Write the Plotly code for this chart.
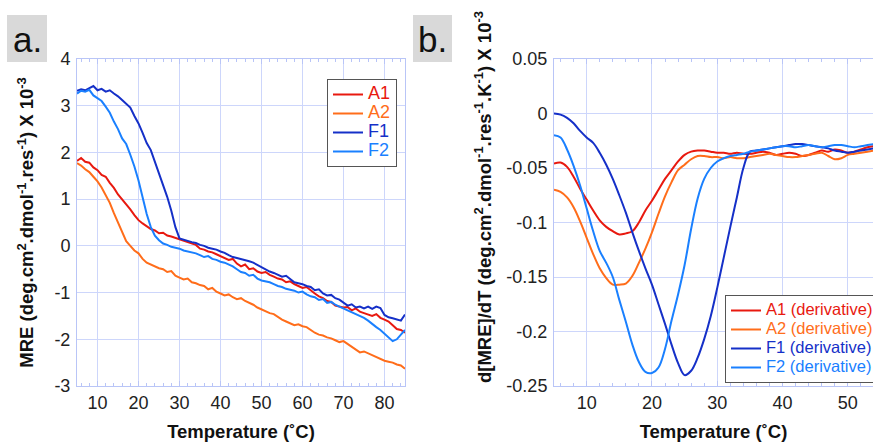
import plotly.graph_objects as go

# ---------------- data ----------------
temp_a = list(range(5, 86))
mre_A1 = [1.82, 1.88, 1.80, 1.78, 1.68, 1.62, 1.52, 1.48, 1.35, 1.24, 1.10, 1.00, 0.88, 0.78, 0.66, 0.55,
          0.48, 0.42, 0.36, 0.33, 0.27, 0.28, 0.22, 0.20, 0.17, 0.14, 0.10, 0.08, 0.05, 0.02, -0.06, -0.08,
          -0.12, -0.14, -0.18, -0.22, -0.25, -0.30, -0.28, -0.38, -0.44, -0.40, -0.50, -0.48, -0.55, -0.58,
          -0.56, -0.62, -0.66, -0.70, -0.72, -0.78, -0.76, -0.82, -0.86, -0.90, -0.88, -0.96, -1.02, -1.08,
          -1.12, -1.18, -1.20, -1.28, -1.30, -1.32, -1.31, -1.38, -1.34, -1.41, -1.44, -1.47, -1.50, -1.46,
          -1.54, -1.58, -1.62, -1.70, -1.78, -1.80, -1.86]
mre_A2 = [1.77, 1.72, 1.64, 1.58, 1.48, 1.38, 1.25, 1.10, 0.92, 0.70, 0.50, 0.30, 0.10, 0.00, -0.10, -0.16,
          -0.28, -0.36, -0.40, -0.44, -0.48, -0.50, -0.56, -0.54, -0.64, -0.68, -0.72, -0.70, -0.78, -0.80,
          -0.84, -0.86, -0.93, -0.90, -0.98, -1.02, -1.06, -1.04, -1.10, -1.14, -1.12, -1.18, -1.22, -1.26,
          -1.32, -1.36, -1.40, -1.44, -1.46, -1.52, -1.58, -1.62, -1.66, -1.70, -1.68, -1.72, -1.74, -1.80,
          -1.86, -1.90, -1.92, -1.96, -1.98, -2.02, -2.06, -2.04, -2.10, -2.16, -2.22, -2.28, -2.26, -2.30,
          -2.34, -2.38, -2.42, -2.46, -2.48, -2.50, -2.54, -2.56, -2.63]
mre_F1 = [3.32, 3.35, 3.33, 3.38, 3.42, 3.33, 3.36, 3.30, 3.33, 3.26, 3.20, 3.12, 3.05, 2.96, 2.78, 2.62,
          2.42, 2.20, 2.05, 1.80, 1.55, 1.32, 1.05, 0.75, 0.40, 0.16, 0.13, 0.10, 0.08, 0.06, 0.02, 0.00,
          -0.04, -0.06, -0.08, -0.12, -0.15, -0.20, -0.24, -0.26, -0.28, -0.30, -0.33, -0.36, -0.41, -0.45,
          -0.50, -0.55, -0.58, -0.62, -0.66, -0.64, -0.72, -0.78, -0.80, -0.82, -0.86, -0.88, -0.95, -0.93,
          -1.02, -1.06, -1.05, -1.12, -1.15, -1.22, -1.28, -1.25, -1.32, -1.30, -1.34, -1.30, -1.35, -1.30,
          -1.33, -1.48, -1.53, -1.55, -1.57, -1.60, -1.47]
mre_F2 = [3.26, 3.32, 3.30, 3.34, 3.22, 3.16, 3.10, 2.98, 2.85, 2.66, 2.50, 2.30, 2.18, 1.95, 1.70, 1.40,
          1.02, 0.68, 0.40, 0.22, 0.12, 0.05, 0.02, -0.02, -0.04, -0.06, -0.10, -0.12, -0.14, -0.16, -0.20,
          -0.24, -0.22, -0.28, -0.30, -0.34, -0.36, -0.40, -0.44, -0.50, -0.56, -0.58, -0.64, -0.62, -0.70,
          -0.74, -0.76, -0.78, -0.82, -0.86, -0.88, -0.92, -0.94, -0.96, -1.00, -0.98, -1.04, -1.08, -1.10,
          -1.16, -1.14, -1.22, -1.20, -1.26, -1.30, -1.34, -1.38, -1.42, -1.46, -1.50, -1.54, -1.60, -1.68,
          -1.74, -1.80, -1.88, -1.94, -2.04, -2.00, -1.90, -1.80]

temp_b = list(range(5, 55))
d_A1 = [-0.046, -0.045, -0.049, -0.058, -0.069, -0.079, -0.089, -0.098, -0.104, -0.108, -0.111, -0.110,
        -0.108, -0.100, -0.089, -0.080, -0.070, -0.060, -0.052, -0.044, -0.038, -0.035, -0.034, -0.034,
        -0.035, -0.036, -0.036, -0.037, -0.036, -0.037, -0.037, -0.036, -0.035, -0.036, -0.038, -0.037,
        -0.036, -0.037, -0.039, -0.038, -0.036, -0.034, -0.035, -0.033, -0.034, -0.036, -0.035, -0.033,
        -0.031, -0.030]
d_A2 = [-0.070, -0.072, -0.077, -0.086, -0.099, -0.114, -0.129, -0.142, -0.151, -0.157, -0.157, -0.156,
        -0.149, -0.137, -0.124, -0.109, -0.092, -0.076, -0.063, -0.052, -0.047, -0.042, -0.039, -0.039,
        -0.040, -0.040, -0.041, -0.040, -0.041, -0.041, -0.040, -0.039, -0.038, -0.037, -0.038, -0.039,
        -0.040, -0.040, -0.039, -0.038, -0.037, -0.036, -0.039, -0.042, -0.041, -0.038, -0.037, -0.036,
        -0.035, -0.034]
d_F1 = [0.000, -0.001, -0.004, -0.009, -0.016, -0.022, -0.027, -0.036, -0.047, -0.060, -0.075, -0.091,
        -0.109, -0.126, -0.142, -0.157, -0.175, -0.193, -0.212, -0.229, -0.240, -0.236, -0.224, -0.207,
        -0.186, -0.160, -0.132, -0.104, -0.077, -0.050, -0.035, -0.034, -0.033, -0.032, -0.031, -0.030,
        -0.029, -0.028, -0.028, -0.029, -0.030, -0.031, -0.032, -0.034, -0.035, -0.036, -0.035, -0.034,
        -0.033, -0.032]
d_F2 = [-0.020, -0.022, -0.033, -0.048, -0.066, -0.087, -0.108, -0.126, -0.137, -0.150, -0.171, -0.191,
        -0.212, -0.228, -0.237, -0.238, -0.233, -0.216, -0.190, -0.166, -0.139, -0.106, -0.078, -0.060,
        -0.050, -0.044, -0.041, -0.039, -0.038, -0.037, -0.035, -0.034, -0.033, -0.032, -0.031, -0.030,
        -0.030, -0.031, -0.030, -0.029, -0.030, -0.031, -0.030, -0.029, -0.029, -0.030, -0.031, -0.030,
        -0.029, -0.028]

series_names = ["A1", "A2", "F1", "F2"]
colors = ["#e8190f", "#ff6d1a", "#1530c8", "#1a80ff"]

xa_ticks = [10, 20, 30, 40, 50, 60, 70, 80]
ya_ticks = [-3, -2, -1, 0, 1, 2, 3, 4]
ya_ticktext = ["-3", "-2", "-1", "0", "1", "2", "3", "4"]
xb_ticks = [10, 20, 30, 40, 50]
yb_ticks = [-0.25, -0.2, -0.15, -0.1, -0.05, 0, 0.05]
yb_ticktext = ["-0.25", "-0.2", "-0.15", "-0.1", "-0.05", "0", "0.05"]

title_a_y = "MRE (deg.cm<sup>2</sup>.dmol<sup>-1</sup>.res<sup>-1</sup>) X 10<sup>-3</sup>"
title_b_y = "d[MRE]/dT (deg.cm<sup>2</sup>.dmol<sup>-1</sup>.res<sup>-1</sup>.K<sup>-1</sup>) X 10<sup>-3</sup>"
title_x = "Temperature (˚C)"

# ---------------- figure ----------------
W, H = 873, 443
FONT = "Liberation Sans, Arial, Helvetica, sans-serif"
GRID = "#cdd6fb"
AXLINE = "#b9c5f7"
TITLE_FONT = dict(family=FONT, size=18.5, color="#111", weight="bold")
TICK_FONT = dict(family=FONT, size=18, color="#222")

fig = go.Figure()
for name, col, ys in zip(series_names, colors, [mre_A1, mre_A2, mre_F1, mre_F2]):
    fig.add_trace(go.Scatter(x=temp_a, y=ys, mode="lines", line=dict(color=col, width=2),
                             name=f"<span style='color:{col};font-size:18px'>{name}</span>",
                             xaxis="x", yaxis="y", legend="legend"))
for name, col, ys in zip(series_names, colors, [d_A1, d_A2, d_F1, d_F2]):
    fig.add_trace(go.Scatter(x=temp_b, y=ys, mode="lines", line=dict(color=col, width=2, shape="spline"),
                             name=f"<span style='color:{col};font-size:16.5px'>{name} (derivative)</span>",
                             xaxis="x2", yaxis="y2", legend="legend2"))


def xaxis_common(domain, rng, ticks, anchor):
    return dict(domain=domain, range=rng, tickvals=ticks, anchor=anchor,
                showgrid=True, gridcolor=GRID, gridwidth=1, zeroline=False,
                showline=True, linecolor=AXLINE, linewidth=1, mirror="allticks",
                ticks="inside", ticklen=5, tickcolor=AXLINE,
                minor=dict(dtick=2, ticks="inside", ticklen=3, tickcolor=AXLINE, showgrid=False),
                tickfont=TICK_FONT, ticklabelstandoff=0,
                title=dict(text=title_x, font=TITLE_FONT, standoff=13))


def yaxis_common(domain, rng, ticks, ticktext, anchor, title, standoff):
    return dict(domain=domain, range=rng, tickvals=ticks, ticktext=ticktext, anchor=anchor,
                showgrid=True, gridcolor=GRID, gridwidth=1, zeroline=False,
                showline=True, linecolor=AXLINE, linewidth=1, mirror="allticks",
                ticks="", tickfont=TICK_FONT, ticklabelstandoff=2,
                title=dict(text=title, font=TITLE_FONT, standoff=standoff))


x_a = [77 / W, 405 / W]
x_b = [554 / W, 1.0]
y_dom = [1 - 386 / H, 1 - 59 / H]

fig.update_layout(
    width=W, height=H,
    margin=dict(l=0, r=0, t=0, b=0, autoexpand=False),
    paper_bgcolor="white", plot_bgcolor="white",
    font=dict(family=FONT, color="#222"),
    xaxis=xaxis_common(x_a, [5, 85], xa_ticks, "y"),
    yaxis=yaxis_common(y_dom, [-3, 4], ya_ticks, ya_ticktext, "x", title_a_y, 15),
    xaxis2=xaxis_common(x_b, [5, 53.85], xb_ticks, "y2"),
    yaxis2=yaxis_common(y_dom, [-0.25, 0.05], yb_ticks, yb_ticktext, "x2", "", 10),
    legend=dict(x=327 / W, y=1 - 79 / H, xanchor="left", yanchor="top",
                bgcolor="white", bordercolor="#555", borderwidth=1,
                font=dict(family=FONT, size=12), tracegroupgap=0, itemwidth=30),
    legend2=dict(x=725 / W, y=1 - 295 / H, xanchor="left", yanchor="top",
                 bgcolor="white", bordercolor="#555", borderwidth=1,
                 font=dict(family=FONT, size=12), tracegroupgap=0, itemwidth=30),
    showlegend=True,
)

# y-axis title of panel b (placed as in the reference, slightly above centre)
fig.add_annotation(xref="paper", yref="paper", x=483 / W, y=1 - 197 / H, text=title_b_y,
                   textangle=-90, showarrow=False, xanchor="center", yanchor="middle",
                   font=TITLE_FONT)

# panel labels
for (x0, x1, lab) in [(7, 47, "a."), (413, 452, "b.")]:
    fig.add_shape(type="rect", xref="paper", yref="paper",
                  x0=x0 / W, x1=x1 / W, y0=1 - 62 / H, y1=1 - 15 / H,
                  fillcolor="#d9d9d9", line=dict(width=0), layer="below")
    fig.add_annotation(xref="paper", yref="paper", x=(x0 + x1) / 2 / W, y=1 - 39 / H,
                       text=lab, showarrow=False, xanchor="center", yanchor="middle",
                       font=dict(family=FONT, size=35, color="#111"))

# remove the page's default body margin so the figure sits at the window's top-left corner
fig.write_html("out.html", config={"displayModeBar": False},
               post_script="document.body.style.margin='0';")
